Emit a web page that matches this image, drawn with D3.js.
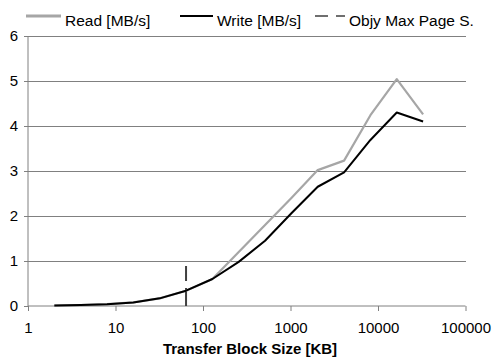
<!DOCTYPE html>
<html><head><meta charset="utf-8">
<script src="https://cdn.jsdelivr.net/npm/d3@7"></script>
<style>body{margin:0;background:#fff}svg{display:block;font-family:"Liberation Sans",Arial,sans-serif}</style>
</head><body><svg id="c" width="497" height="358"></svg>
<script>
const blockSizes = [2,4,8,16,32,64,128,256,512,1024,2048,4096,8192,16384,32768];
const readMBs  = [0.01,0.02,0.04,0.08,0.17,0.34,0.60,1.20,1.80,2.40,3.02,3.23,4.24,5.04,4.26];
const writeMBs = [0.01,0.02,0.04,0.08,0.17,0.34,0.60,0.98,1.45,2.06,2.65,2.97,3.69,4.30,4.10];
const pageSize = [64];
const pageSizeTop = 0.89;
const xTicks = [1,10,100,1000,10000,100000];
const yTicks = [0,1,2,3,4,5,6];
const legendLabels = ["Read [MB/s]","Write [MB/s]","Objy Max Page S."];

const FONT = "Liberation Sans, Arial, sans-serif";
const svg = d3.select("#c");
const x = d3.scaleLog().domain([1,100000]).range([28,465.5]);
const y = d3.scaleLinear().domain([0,6]).range([306,36]);
const grid = "#808080";

// gridlines
svg.append("g").selectAll("line").data(yTicks.filter(d=>d>0)).join("line")
  .attr("x1",x(1)).attr("x2",x(100000)).attr("y1",d=>y(d)).attr("y2",d=>y(d))
  .attr("stroke",grid).attr("stroke-width",1).attr("shape-rendering","crispEdges");

// y axis
const ya = svg.append("g").attr("transform",`translate(${x(1)},0)`)
  .call(d3.axisLeft(y).tickValues(yTicks).tickSize(4).tickPadding(6).tickFormat(d3.format("d")));
ya.select(".domain").attr("stroke",grid).attr("d",`M0,${y(0)}V${y(6)}`);
ya.selectAll(".tick line").attr("stroke",grid);
ya.selectAll(".tick text").attr("font-size",15).attr("fill","#000").attr("font-family",FONT);

// x axis
const xa = svg.append("g").attr("transform",`translate(0,${y(0)})`)
  .call(d3.axisBottom(x).tickValues(xTicks).tickSize(5).tickPadding(11).tickFormat(d3.format("d")));
xa.select(".domain").attr("stroke",grid).attr("d",`M${x(1)},0H${x(100000)}`);
xa.selectAll(".tick line").attr("stroke",grid);
xa.selectAll(".tick text").attr("font-size",15).attr("fill","#000").attr("font-family",FONT);

// page size marker
svg.append("line").attr("x1",x(pageSize[0])).attr("x2",x(pageSize[0]))
  .attr("y1",y(0)).attr("y2",y(pageSizeTop))
  .attr("stroke","#404040").attr("stroke-width",2).attr("stroke-dasharray","18,7");

const line = d3.line().x((d,i)=>x(blockSizes[i])).y(d=>y(d));
svg.append("path").datum(readMBs).attr("d",line).attr("fill","none")
  .attr("stroke","#a6a6a6").attr("stroke-width",2.2).attr("stroke-linejoin","round");
svg.append("path").datum(writeMBs).attr("d",line).attr("fill","none")
  .attr("stroke","#000").attr("stroke-width",2).attr("stroke-linejoin","round");

// axis title
svg.append("text").attr("x",250).attr("y",354).attr("text-anchor","middle")
  .attr("font-size",15).attr("font-weight","bold").attr("font-family",FONT).text("Transfer Block Size [KB]");

// legend
const lg = svg.append("g").attr("font-family",FONT).attr("font-size",15.5);
const ly = 16;
lg.append("line").attr("x1",26).attr("x2",61).attr("y1",ly).attr("y2",ly).attr("stroke","#a6a6a6").attr("stroke-width",3);
lg.append("text").attr("x",65).attr("y",ly+10).text(legendLabels[0]);
lg.append("line").attr("x1",180).attr("x2",213).attr("y1",ly).attr("y2",ly).attr("stroke","#000").attr("stroke-width",2);
lg.append("text").attr("x",217).attr("y",ly+10).text(legendLabels[1]);
lg.append("line").attr("x1",315).attr("x2",345).attr("y1",ly).attr("y2",ly).attr("stroke","#404040").attr("stroke-width",1.6).attr("stroke-dasharray","13,8");
lg.append("text").attr("x",349).attr("y",ly+10).text(legendLabels[2]);
</script></body></html>
